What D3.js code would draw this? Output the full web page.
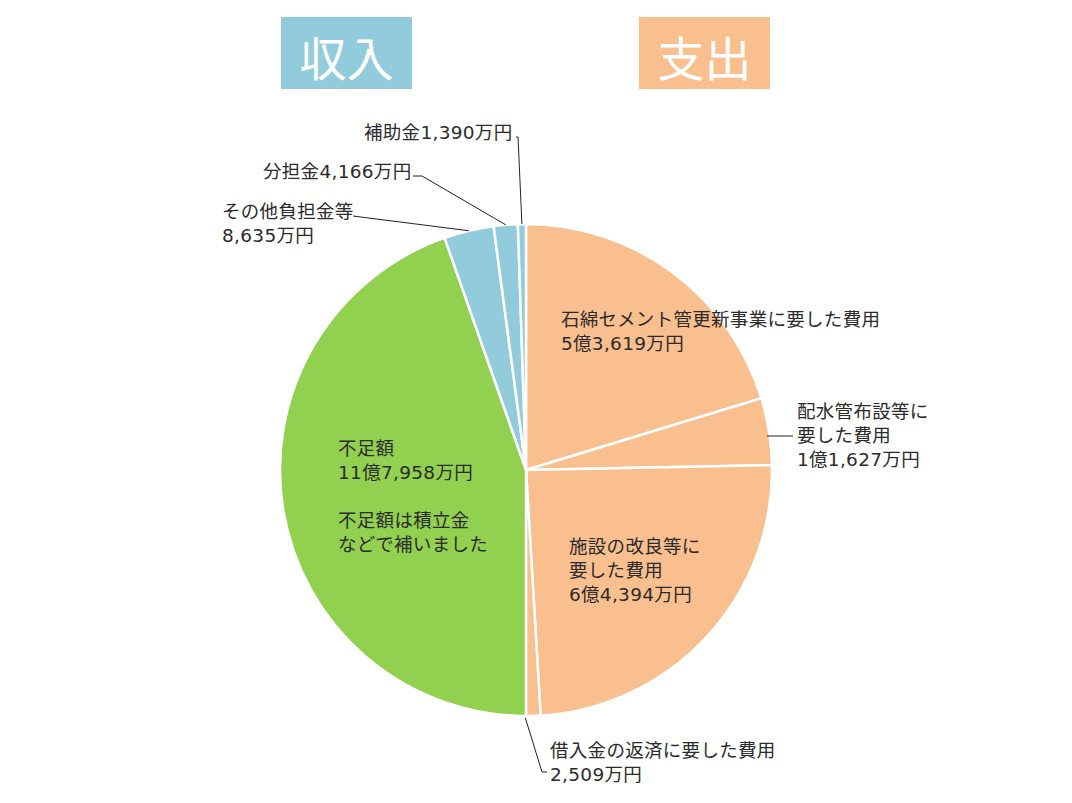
<!DOCTYPE html>
<html>
<head>
<meta charset="utf-8">
<script src="https://cdn.jsdelivr.net/npm/d3@7"></script>
<style>
  body { margin: 0; background: #fff; }
  svg text { font-family: "DejaVu Sans", "Noto Sans CJK JP", sans-serif; fill: #2b2b2b; }
  .title { font-family: "Noto Sans CJK JP", sans-serif; fill: #fff; }
</style>
</head>
<body>
<svg id="chart" width="1072" height="803"></svg>
<script>
// expenditure (支出) runs clockwise from 12 o'clock, income (収入) fills the left half
const expenseNames = ['石綿セメント管更新事業', '配水管布設等', '施設の改良等', '借入金の返済']
const expenseValues = [53619, 11627, 64394, 2509]
const incomeNames = ['不足額', 'その他負担金等', '分担金', '補助金']
const incomeValues = [117958, 8635, 4166, 1390]

const expenseLabels = [
    ['石綿セメント管更新事業に要した費用', '5億3,619万円'],
    ['配水管布設等に', '要した費用', '1億1,627万円'],
    ['施設の改良等に', '要した費用', '6億4,394万円'],
    ['借入金の返済に要した費用', '2,509万円']
]
const incomeLabels = [
    ['不足額', '11億7,958万円', '', '不足額は積立金', 'などで補いました'],
    ['その他負担金等', '8,635万円'],
    ['分担金4,166万円'],
    ['補助金1,390万円']
]

const COLORS = { expense: '#f9bf8f', shortfall: '#92d050', income: '#92cbdc' }

const svg = d3.select('#chart')
const cx = 526, cy = 470, radius = 246
const lineH = 24

// heading boxes
const headers = [
    { text: '収入', x: 281, color: COLORS.income },
    { text: '支出', x: 639, color: COLORS.expense }
]
headers.forEach(h => {
    svg.append('rect')
        .attr('x', h.x).attr('y', 17)
        .attr('width', 131).attr('height', 72)
        .attr('fill', h.color)
    svg.append('text')
        .attr('class', 'title')
        .attr('x', h.x + 65.5).attr('y', 55)
        .attr('text-anchor', 'middle')
        .attr('dominant-baseline', 'central')
        .attr('font-size', 47)
        .text(h.text)
})

const slices = expenseValues.map((v, i) => ({ name: expenseNames[i], value: v, lines: expenseLabels[i], type: 'expense' }))
    .concat(incomeValues.map((v, i) => ({ name: incomeNames[i], value: v, lines: incomeLabels[i], type: i === 0 ? 'shortfall' : 'income' })))

const pie = d3.pie().sort(null).value(d => d.value)
const arcs = pie(slices)
const arc = d3.arc().innerRadius(0).outerRadius(radius)

const g = svg.append('g').attr('transform', `translate(${cx}, ${cy})`)

g.selectAll('.slice')
    .data(arcs)
    .join('path')
    .attr('class', 'slice')
    .attr('d', arc)
    .attr('fill', d => COLORS[d.data.type])
    .attr('stroke', '#fff')
    .attr('stroke-width', 2.5)

// label placement relative to centre
const labelPos = {
    '石綿セメント管更新事業': { x: 35, y: -144 },
    '配水管布設等': { x: 271, y: -52, leader: 'side' },
    '施設の改良等': { x: 43, y: 83 },
    '借入金の返済': { x: 24, y: 287, leader: 'bottom' },
    '不足額': { x: -188, y: -15 },
    'その他負担金等': { x: -304, y: -252, leader: 'top', end: -173 },
    '分担金': { x: -263, y: -292, leader: 'top', end: -113 },
    '補助金': { x: -162, y: -331, leader: 'top', end: -10 }
}

arcs.forEach(d => {
    const p = labelPos[d.data.name]
    const label = g.append('text')
        .attr('font-size', 18.5)
        .attr('letter-spacing', 0.3)
        .attr('x', p.x).attr('y', p.y)
    d.data.lines.forEach((line, i) => {
        label.append('tspan')
            .attr('x', p.x)
            .attr('y', p.y + i * lineH)
            .text(line)
    })

    if (!p.leader) return
    const mid = (d.startAngle + d.endAngle) / 2
    const ex = Math.sin(mid) * radius, ey = -Math.cos(mid) * radius
    let pts
    if (p.leader === 'top') {
        const ly = p.y - 2
        pts = [[p.end, ly], [p.end + (d.data.name === '補助金' ? 2 : 9), ly], [ex, ey]]
        if (d.data.name === 'その他負担金等') pts = [[p.end, ly], [ex, ey]]
    } else if (p.leader === 'side') {
        pts = [[ex - 2, p.y + lineH - 6], [p.x - 4, p.y + lineH - 6]]
    } else {
        pts = [[ex - 8, ey + 2], [p.x - 8, p.y + 15], [p.x - 3, p.y + 15]]
    }
    g.append('path')
        .attr('d', d3.line()(pts))
        .attr('fill', 'none')
        .attr('stroke', '#222')
        .attr('stroke-width', 1)
})
</script>
</body>
</html>
